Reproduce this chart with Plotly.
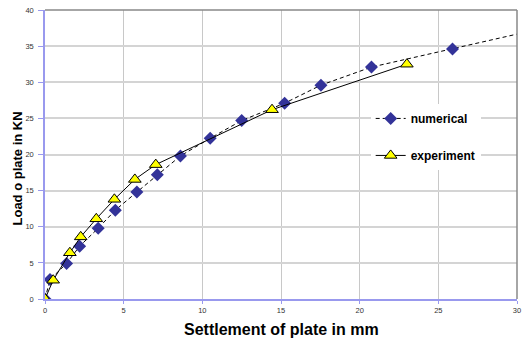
import plotly.graph_objects as go

num_x = [0, 0.32, 1.37, 2.2, 3.38, 4.47, 5.84, 7.14, 8.61, 10.5, 12.5, 15.23, 17.54, 20.75, 25.9, 31.5]
num_y = [0, 2.7, 4.92, 7.3, 9.8, 12.3, 14.8, 17.2, 19.8, 22.25, 24.7, 27.1, 29.6, 32.1, 34.6, 37.4]

exp_x = [0, 0.52, 1.58, 2.27, 3.26, 4.41, 5.71, 7.04, 14.43, 23.0]
exp_y = [0, 2.6, 6.4, 8.6, 11.1, 13.8, 16.55, 18.6, 26.2, 32.5]

x_ticks = [0, 5, 10, 15, 20, 25, 30]
y_ticks = [0, 5, 10, 15, 20, 25, 30, 35, 40]

FONT = "Arial, 'Liberation Sans', sans-serif"

fig = go.Figure()
fig.add_trace(go.Scatter(
    x=num_x, y=num_y, name="numerical", mode="lines+markers",
    line=dict(color="black", width=1, dash="4px,3px"),
    marker=dict(symbol="diamond", size=10, color="#333399", line=dict(width=0)),
    legendgroup="a",
))
fig.add_trace(go.Scatter(
    x=exp_x, y=exp_y, name="experiment", mode="lines+markers",
    line=dict(color="black", width=1),
    marker=dict(symbol="triangle-up", size=11, color="#FFFF00", line=dict(color="black", width=1)),
    legendgroup="b",
))

fig.update_layout(
    width=525, height=340,
    margin=dict(l=45, r=4, t=10, b=41),
    plot_bgcolor="white", paper_bgcolor="white",
    font=dict(family=FONT, color="#333"),
    showlegend=True,
    legend=dict(
        x=0.69, y=0.675, xanchor="left", yanchor="top",
        bgcolor="white", borderwidth=0,
        font=dict(family=FONT, size=12, color="black", weight="bold"),
        tracegroupgap=18,
        traceorder="grouped",
    ),
    xaxis=dict(
        range=[0, 30], tickvals=x_ticks, ticktext=[str(v) for v in x_ticks],
        showgrid=True, gridcolor="#c8c8c8", gridwidth=1,
        showline=True, linecolor="#9999ee", linewidth=1.5, mirror=False,
        ticks="outside", ticklen=3, tickcolor="#9999ee",
        tickfont=dict(size=7.5, color="#333"), zeroline=False,
        ticklabeloverflow="allow",
    ),
    yaxis=dict(
        range=[0, 40], tickvals=y_ticks, ticktext=[str(v) for v in y_ticks],
        showgrid=True, gridcolor="#d4d4d4", gridwidth=1.5,
        showline=True, linecolor="#9999ee", linewidth=1.5, mirror=False,
        ticks="outside", ticklen=5, tickcolor="#9999ee",
        tickfont=dict(size=7.5, color="#333"), zeroline=False,
        ticklabelstandoff=3, ticklabeloverflow="allow",
    ),
    shapes=[
        dict(type="line", xref="paper", yref="paper", x0=0, x1=1, y0=1, y1=1,
             line=dict(color="#888888", width=1.5)),
        dict(type="line", xref="paper", yref="paper", x0=1, x1=1, y0=0, y1=1,
             line=dict(color="#888888", width=1.5)),
    ],
    annotations=[
        dict(text="<b>Settlement of plate in mm</b>", xref="paper", yref="paper",
             x=0.5, y=0, yshift=-30, xanchor="center", yanchor="middle",
             showarrow=False, font=dict(family=FONT, size=16, color="black")),
        dict(text="<b>Load o plate in KN</b>", xref="paper", yref="paper",
             x=0, xshift=-28, y=0.5, yshift=-14, textangle=-90, xanchor="center", yanchor="middle",
             showarrow=False, font=dict(family=FONT, size=13, color="black")),
    ],
)

fig.write_html(
    "out.html",
    config={"displayModeBar": False},
    post_script="document.body.style.margin='0';document.body.style.overflow='hidden';",
)
